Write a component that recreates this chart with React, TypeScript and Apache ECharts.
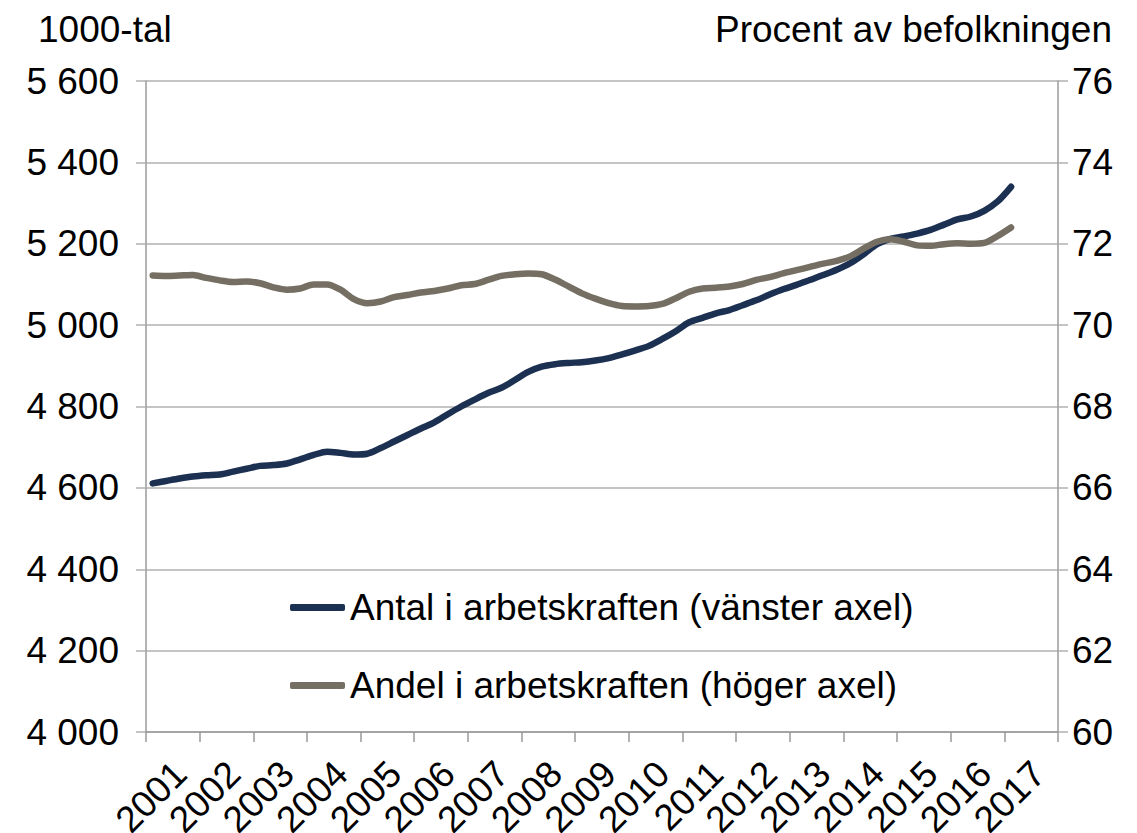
import React, { useEffect, useRef } from "react";
import * as echarts from "echarts";

const years = ["2001", "2002", "2003", "2004", "2005", "2006", "2007", "2008", "2009", "2010", "2011", "2012", "2013", "2014", "2015", "2016", "2017"];
const quarterSuffixes = ["K1", "K2", "K3", "K4"];

// Antal i arbetskraften, 1000-tal (vänster axel), kvartal 2001K1–2017K1
const antal = [
  4611, 4617, 4623, 4628, 4631, 4633, 4640, 4647, 4654, 4656, 4660, 4670, 4681, 4689, 4686, 4682,
  4684, 4698, 4714, 4730, 4746, 4761, 4781, 4800, 4817, 4833, 4846, 4865, 4885, 4898, 4904, 4907,
  4909, 4913, 4919, 4928, 4938, 4949, 4966, 4985, 5007, 5018, 5029, 5037, 5049, 5061, 5075, 5088,
  5099, 5111, 5123, 5136, 5152, 5174, 5199, 5212, 5218, 5225, 5234, 5247, 5260, 5267, 5281, 5304,
  5340,
];

// Andel i arbetskraften, procent av befolkningen (höger axel)
const andel = [
  71.22, 71.21, 71.22, 71.23, 71.16, 71.1, 71.06, 71.07, 71.03, 70.93, 70.87, 70.9, 71.0, 71.0, 70.87, 70.64,
  70.54, 70.58, 70.69, 70.74, 70.8, 70.84, 70.9, 70.98, 71.01, 71.11, 71.21, 71.25, 71.27, 71.25, 71.12, 70.95,
  70.78, 70.65, 70.54, 70.47, 70.46, 70.47, 70.52, 70.66, 70.82, 70.9, 70.92, 70.95, 71.01, 71.11, 71.18, 71.27,
  71.35, 71.43, 71.51, 71.58, 71.69, 71.88, 72.05, 72.11, 72.05, 71.96, 71.95, 71.99, 72.01, 72.0, 72.02, 72.19,
  72.4,
];

const seriesNames = ["Antal i arbetskraften (vänster axel)", "Andel i arbetskraften (höger axel)"];
const leftTitle = "1000-tal";
const rightTitle = "Procent av befolkningen";

const FONT = "'Liberation Sans', Arial, Helvetica, sans-serif";
const FS = 37;
const NAVY = "#1c3052";
const TAUPE = "#756f63";

export default function App() {
  const ref = useRef<HTMLDivElement>(null);

  useEffect(() => {
    if (!ref.current) return;
    const chart = echarts.init(ref.current, null, { renderer: "svg" });
    const quarters: string[] = [];
    years.forEach((y) => quarterSuffixes.forEach((q) => quarters.push(y + q)));

    chart.setOption({
      animation: false,
      backgroundColor: "#ffffff",
      textStyle: { fontFamily: FONT },
      title: [
        {
          text: leftTitle,
          left: 38,
          top: 11,
          padding: 0,
          textStyle: { fontFamily: FONT, fontSize: FS, fontWeight: "normal", color: "#000" },
        },
        {
          text: rightTitle,
          right: 25,
          top: 11,
          padding: 0,
          textStyle: { fontFamily: FONT, fontSize: FS, fontWeight: "normal", color: "#000" },
        },
      ],
      legend: {
        orient: "vertical",
        left: 290,
        top: 589,
        padding: 0,
        icon: "roundRect",
        itemWidth: 55,
        itemHeight: 7,
        itemGap: 41,
        textStyle: { fontFamily: FONT, fontSize: FS, color: "#000", lineHeight: 36 },
        data: seriesNames,
      },
      grid: { left: 146, right: 79, top: 81, bottom: 101, containLabel: false, outerBoundsMode: "none" },
      xAxis: [
        {
          type: "category",
          data: years,
          boundaryGap: true,
          axisLine: { show: true, lineStyle: { color: "#9a9a9a", width: 1.5 } },
          axisTick: { show: true, length: 10, lineStyle: { color: "#9a9a9a", width: 1.5 } },
          axisLabel: {
            rotate: 45,
            align: "right",
            verticalAlign: "top",
            margin: 17,
            padding: [0, 8, 0, 0],
            fontFamily: FONT,
            fontSize: FS,
            color: "#000",
            interval: 0,
          },
          splitLine: { show: false },
        },
        {
          type: "category",
          data: quarters,
          boundaryGap: true,
          show: false,
        },
      ],
      yAxis: [
        {
          type: "value",
          min: 4000,
          max: 5600,
          interval: 200,
          axisLine: { show: true, lineStyle: { color: "#9a9a9a", width: 1.5 } },
          axisTick: { show: true, length: 10, lineStyle: { color: "#b0b0b0", width: 1.5 } },
          axisLabel: {
            margin: 27,
            fontFamily: FONT,
            fontSize: FS,
            color: "#000",
            formatter: (v: number) => {
              const s = String(Math.round(v));
              return s.length > 3 ? s.slice(0, s.length - 3) + " " + s.slice(-3) : s;
            },
          },
          splitLine: { show: true, lineStyle: { color: "#b0b0b0", width: 1.5 } },
        },
        {
          type: "value",
          min: 60,
          max: 76,
          interval: 2,
          position: "right",
          axisLine: { show: true, lineStyle: { color: "#9a9a9a", width: 1.5 } },
          axisTick: { show: true, length: 10, lineStyle: { color: "#b0b0b0", width: 1.5 } },
          axisLabel: { margin: 14, fontFamily: FONT, fontSize: FS, color: "#000" },
          splitLine: { show: false },
        },
      ],
      series: [
        {
          name: seriesNames[0],
          type: "line",
          xAxisIndex: 1,
          yAxisIndex: 0,
          data: antal,
          symbol: "none",
          smooth: 0.3,
          lineStyle: { color: NAVY, width: 6.5, cap: "round", join: "round" },
          itemStyle: { color: NAVY },
          z: 3,
        },
        {
          name: seriesNames[1],
          type: "line",
          xAxisIndex: 1,
          yAxisIndex: 1,
          data: andel,
          symbol: "none",
          smooth: 0.3,
          lineStyle: { color: TAUPE, width: 6.5, cap: "round", join: "round" },
          itemStyle: { color: TAUPE },
          z: 4,
        },
      ],
    });

    return () => chart.dispose();
  }, []);

  return (
    <div
      ref={ref}
      style={{ position: "fixed", left: 0, top: 0, width: 1137, height: 833, background: "#fff" }}
    />
  );
}
